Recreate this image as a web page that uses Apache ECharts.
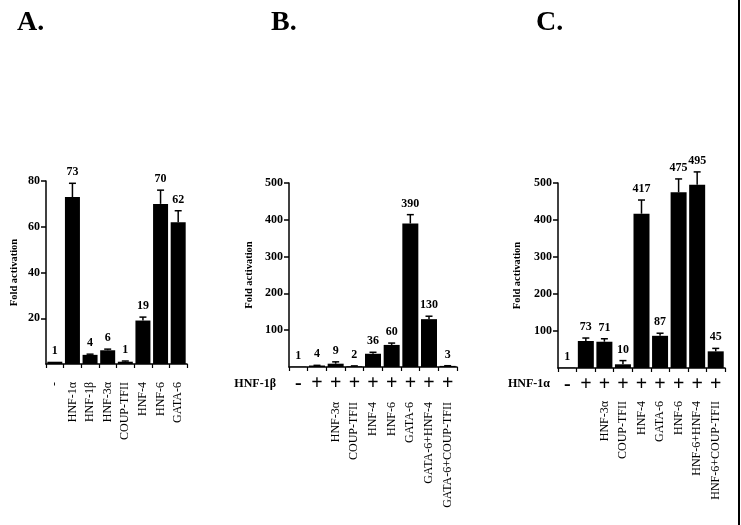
<!DOCTYPE html>
<html>
<head>
<meta charset="utf-8">
<script src="https://cdn.jsdelivr.net/npm/echarts@6/dist/echarts.min.js"></script>
<style>html,body{margin:0;padding:0;background:#fff;}#c{width:741px;height:525px;}</style>
</head>
<body>
<div id="c"></div>
<script>
// Panel A
const catsA = ['-', 'HNF-1α', 'HNF-1β', 'HNF-3α', 'COUP-TFII', 'HNF-4', 'HNF-6', 'GATA-6'];
const valsA = [1, 73, 4, 6, 1, 19, 70, 62];
const errA  = [0, 6, 0.3, 0.5, 0.3, 1.5, 6, 5];
const yAxisA = [0, 80, 20]; // min, max, step

// Panel B
const signsB = ['-', '+', '+', '+', '+', '+', '+', '+', '+'];
const namesB = ['', '', 'HNF-3α', 'COUP-TFII', 'HNF-4', 'HNF-6', 'GATA-6', 'GATA-6+HNF-4', 'GATA-6+COUP-TFII'];
const valsB  = [1, 4, 9, 2, 36, 60, 390, 130, 3];
const errB   = [0, 0.5, 5, 1, 4, 5, 24, 8, 0.5];
const rowLabelB = 'HNF-1β';
const yAxisB = [0, 500, 100];

// Panel C
const signsC = ['-', '+', '+', '+', '+', '+', '+', '+', '+'];
const namesC = ['', '', 'HNF-3α', 'COUP-TFII', 'HNF-4', 'GATA-6', 'HNF-6', 'HNF-6+HNF-4', 'HNF-6+COUP-TFII'];
const valsC  = [1, 73, 71, 10, 417, 87, 475, 495, 45];
const errC   = [0, 8, 8, 10, 37, 7, 36, 35, 8];
const rowLabelC = 'HNF-1α';
const yAxisC = [0, 500, 100];

const panelTitles = ['A.', 'B.', 'C.'];
const yName = 'Fold activation';

const FONT = '"Liberation Serif", "Times New Roman", serif';
const chart = echarts.init(document.getElementById('c'));

function renderErr(params, api) {
  const i = api.value(0), v = api.value(1), e = api.value(2);
  const base = api.coord([i, v]);
  const top = api.coord([i, v + e]);
  const ch = [];
  if (e > 0) {
    ch.push({type: 'line', shape: {x1: base[0], y1: base[1], x2: top[0], y2: top[1]}, style: {stroke: '#000', lineWidth: 1.5}});
    ch.push({type: 'line', shape: {x1: top[0] - 3.5, y1: top[1], x2: top[0] + 3.5, y2: top[1]}, style: {stroke: '#000', lineWidth: 1.5}});
  }
  ch.push({type: 'text', style: {text: String(v), x: top[0], y: top[1] - 5, align: 'center', verticalAlign: 'bottom',
    textAlign: 'center', textVerticalAlign: 'bottom', font: 'bold 12px ' + FONT, fill: '#000'}});
  return {type: 'group', children: ch};
}

const grids = [
  {left: 46, top: 181, width: 141, height: 183},
  {left: 289, top: 183, width: 168, height: 184},
  {left: 558, top: 183, width: 167, height: 185}
];

function yAx(gi, range, gap) {
  return {
    type: 'value', gridIndex: gi, min: range[0], max: range[1], interval: range[2],
    axisLine: {show: true, lineStyle: {color: '#000', width: 1.5}},
    axisTick: {show: true, length: 5, lineStyle: {color: '#000', width: 1.5}},
    axisLabel: {showMinLabel: false, color: '#000', fontFamily: FONT, fontWeight: 'bold', fontSize: 12, margin: 6},
    splitLine: {show: false},
    name: yName, nameLocation: 'middle', nameGap: gap,
    nameTextStyle: {color: '#000', fontFamily: FONT, fontWeight: 'bold', fontSize: 10.5}
  };
}
function lineAxis(gi, data, labelOpts) {
  return Object.assign({
    type: 'category', gridIndex: gi, data: data, position: 'bottom', boundaryGap: true,
    axisLine: {show: true, lineStyle: {color: '#000', width: 1.5}},
    axisTick: {show: true, length: 4, alignWithLabel: false, interval: 0, lineStyle: {color: '#000', width: 1.2}}
  }, labelOpts);
}
function nameAxis(gi, data, margin) {
  return {
    type: 'category', gridIndex: gi, data: data, position: 'bottom', offset: 0, boundaryGap: true,
    axisLine: {show: false}, axisTick: {show: false},
    axisLabel: {interval: 0, rotate: 90, margin: margin, color: '#000', fontFamily: FONT, fontSize: 12}
  };
}

const signLabel = {axisLabel: {interval: 0, margin: 7, color: '#000', fontFamily: FONT, fontWeight: 'bold', fontSize: 20}};
const xAxes = [
  lineAxis(0, catsA, {axisLabel: {interval: 0, rotate: 90, margin: 18, color: '#000', fontFamily: FONT, fontSize: 12}}),
  lineAxis(1, signsB, signLabel),
  nameAxis(1, namesB, 35),
  lineAxis(2, signsC, signLabel),
  nameAxis(2, namesC, 33)
];

function barSeries(xi, yi, vals, w) {
  return {type: 'bar', xAxisIndex: xi, yAxisIndex: yi, data: vals, barWidth: w,
    itemStyle: {color: '#000'}, silent: true, animation: false};
}
function errSeries(xi, yi, vals, errs) {
  return {type: 'custom', xAxisIndex: xi, yAxisIndex: yi, renderItem: renderErr, clip: false,
    data: vals.map((v, i) => [i, v, errs[i]]), animation: false, silent: true, z: 5};
}

const titleLefts = [12, 266, 531];

chart.setOption({
  backgroundColor: '#fff',
  animation: false,
  title: panelTitles.map((t, i) => ({text: t, left: titleLefts[i], top: 4,
    textStyle: {fontFamily: FONT, fontWeight: 'bold', fontSize: 28, color: '#000'}})),
  grid: grids,
  xAxis: xAxes,
  yAxis: [yAx(0, yAxisA, 26), yAx(1, yAxisB, 34), yAx(2, yAxisC, 35)],
  series: [
    barSeries(0, 0, valsA, 15), errSeries(0, 0, valsA, errA),
    barSeries(1, 1, valsB, 16), errSeries(1, 1, valsB, errB),
    barSeries(3, 2, valsC, 16), errSeries(3, 2, valsC, errC)
  ],
  graphic: [
    {type: 'text', x: 276, y: 384, style: {text: rowLabelB, align: 'right', verticalAlign: 'middle', font: 'bold 12px ' + FONT, fill: '#000'}},
    {type: 'text', x: 550, y: 384, style: {text: rowLabelC, align: 'right', verticalAlign: 'middle', font: 'bold 12px ' + FONT, fill: '#000'}},
    {type: 'rect', shape: {x: 738, y: 0, width: 2, height: 525}, style: {fill: '#000'}}
  ]
});
</script>
</body>
</html>
